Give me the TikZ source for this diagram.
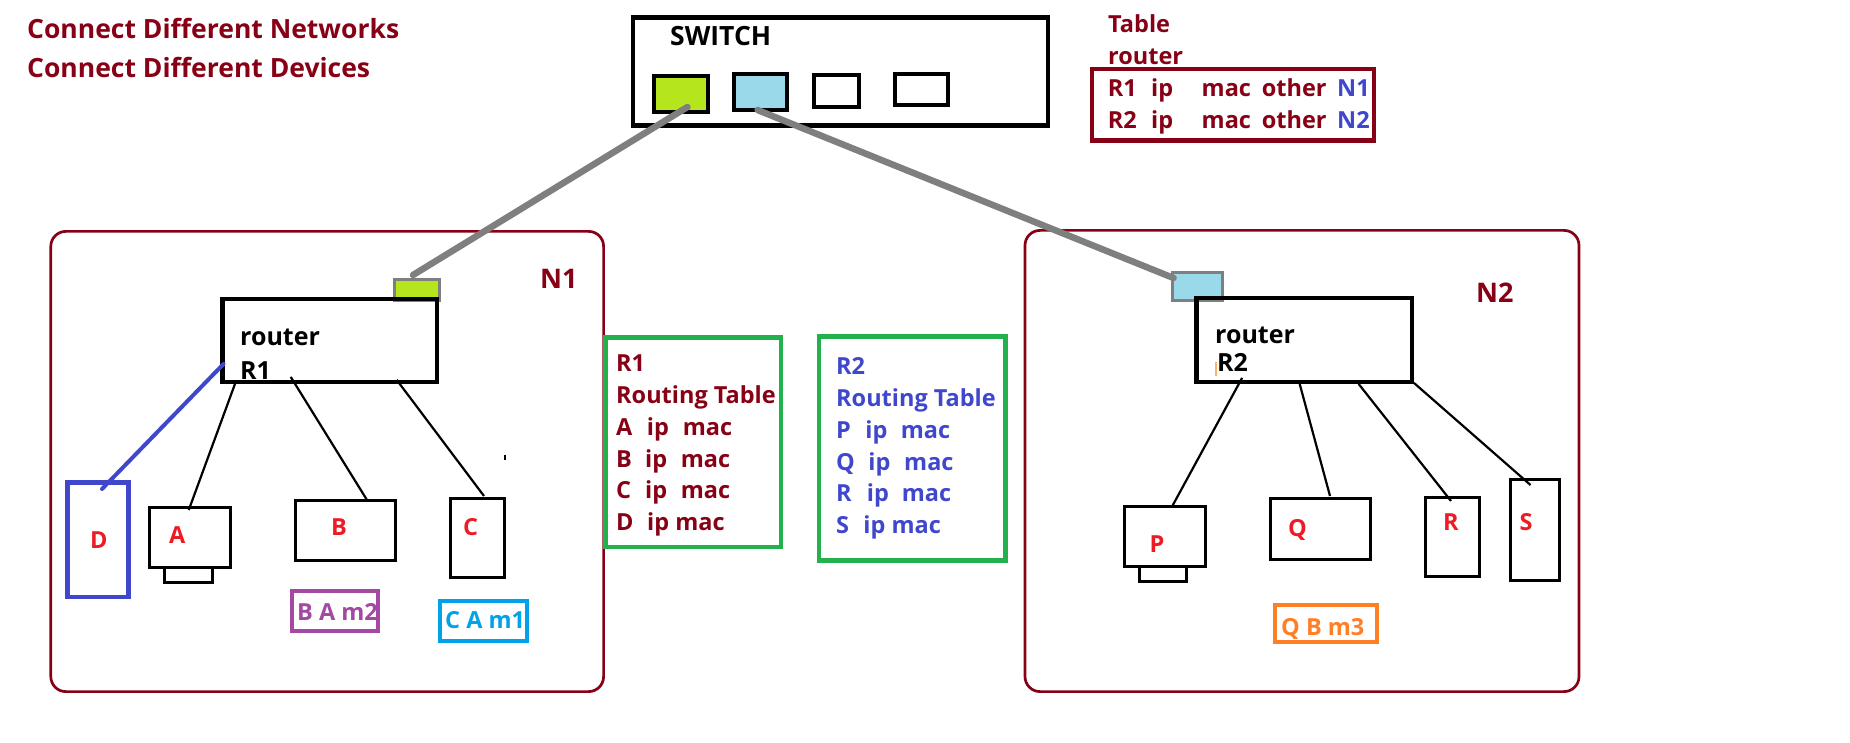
\documentclass[tikz,border=0pt]{standalone}
\usepackage{fontspec}
\setmainfont{Open Sans}
\usetikzlibrary{calc}
\definecolor{dred}{HTML}{880015}
\definecolor{pblue}{HTML}{3F48CC}
\definecolor{pred}{HTML}{ED1C24}
\definecolor{pgreen}{HTML}{22B14C}
\definecolor{ppurple}{HTML}{A349A4}
\definecolor{pcyan}{HTML}{00A2E8}
\definecolor{porange}{HTML}{FF7F27}
\definecolor{plime}{HTML}{B5E61D}
\definecolor{pltblue}{HTML}{99D9EA}
\definecolor{pgray}{HTML}{7F7F7F}
\begin{document}
\begin{tikzpicture}[x=1pt,y=-1pt,
  region/.style={draw=dred, line width=2.7pt, rounded corners=15pt, inner sep=0},
  bigbox/.style={draw=black, line width=4.8pt, inner sep=0},
  devbox/.style={draw=black, line width=3pt, inner sep=0},
  swport/.style={draw=black, line width=4.2pt, inner sep=0},
  rport/.style={draw=pgray, line width=3pt, inner sep=0},
  tblbox/.style={draw=pgreen, line width=4.5pt, inner sep=0},
  tagbox/.style={line width=4pt, inner sep=0},
  txt/.style={inner sep=0, anchor=base west, font=\bfseries\fontsize{23.5}{26}\selectfont},
  big/.style={txt, font=\bfseries\fontsize{26.5}{30}\selectfont},
  rtxt/.style={txt, font=\bfseries\fontsize{25}{28}\selectfont},
  cable/.style={draw=pgray, line width=6.5pt, line cap=round},
  wire/.style={draw=black, line width=2.2pt},
]
\useasboundingbox[fill=white] (0,0) rectangle (1850,743);

% titles
\node[big, dred] (t1) at (27,39) {Connect Different Networks};
\node[big, dred] (t2) at (27,78) {Connect Different Devices};

% switch
\node[bigbox, line width=4.5pt, minimum width=415pt, minimum height=108pt] (sw) at (840.5,71.5) {};
\node[big] (swl) at (670,46) {SWITCH};
\node[swport, fill=plime, minimum width=54pt, minimum height=36pt] (p1) at (681,94) {};
\node[swport, fill=pltblue, minimum width=53pt, minimum height=36pt] (p2) at (760.5,92) {};
\node[swport, minimum width=45pt, minimum height=32pt] (p3) at (836.5,91) {};
\node[swport, minimum width=53pt, minimum height=31pt] (p4) at (921.5,89.5) {};

% top-right table
\node[txt, dred] (tb1) at (1108,32.3) {Table};
\node[txt, dred] (tb2) at (1108,65) {router};
\node[draw=dred, line width=4.3pt, inner sep=0, minimum width=282pt, minimum height=71.5pt] (tbx) at (1233,104.75) {};
\node[txt, dred] (row1) at (1107.7,97) {\makebox[43.3pt][l]{R1}\makebox[50.5pt][l]{ip}\makebox[60.2pt][l]{mac}\makebox[75.3pt][l]{other}\textcolor{pblue}{N1}};
\node[txt, dred] (row2) at (1107.7,129) {\makebox[43.3pt][l]{R2}\makebox[50.5pt][l]{ip}\makebox[60.2pt][l]{mac}\makebox[75.3pt][l]{other}\textcolor{pblue}{N2}};

% regions
\node[region, minimum width=552.8pt, minimum height=460.2pt] (n1) at (327.2,461.5) {};
\node[region, minimum width=554pt, minimum height=461.2pt] (n2) at (1302,461) {};
\node[txt, dred, font=\bfseries\fontsize{27}{30}\selectfont] (n1l) at (540,289) {N1};
\node[txt, dred, font=\bfseries\fontsize{27}{30}\selectfont] (n2l) at (1476,303) {N2};

% router ports and routers
\node[rport, fill=plime, minimum width=45pt, minimum height=21pt] (r1p) at (417,290) {};
\node[rport, fill=pltblue, minimum width=49.5pt, minimum height=28pt] (r2p) at (1197.25,286.2) {};
\node[bigbox, minimum width=214.5pt, minimum height=83pt] (r1) at (329.75,340.5) {};
\node[bigbox, minimum width=215.5pt, minimum height=84pt] (r2) at (1304.25,340) {};
\node[rtxt] (r1a) at (240,345) {router};
\node[rtxt] (r1b) at (240,379) {R1};
\node[rtxt] (r2a) at (1215,343) {router};
\node[rtxt] (r2b) at (1217,371.7) {R2};
\draw[draw=orange!60, line width=1.2pt] (1216,362) -- (1216,376);

% cables
\draw[cable] ($(p1.center)+(6.5,13)$) -- ($(r1p.north west)+(20,-3)$);
\draw[cable] ($(p2.center)+(-3,18)$) -- ($(r2p.north west)+(2.5,7.3)$);

% N1 devices
\node[devbox, draw=pblue, line width=4.5pt, minimum width=61pt, minimum height=114.5pt] (D) at (97.75,539.5) {};
\node[devbox, minimum width=81.5pt, minimum height=60.3pt] (A) at (189.75,537.35) {};
\node[devbox, minimum width=47.5pt, minimum height=15.3pt] (As) at (188.25,574.85) {};
\node[devbox, minimum width=100pt, minimum height=60pt] (B) at (345.5,530.2) {};
\node[devbox, minimum width=54pt, minimum height=79.3pt] (C) at (477.5,537.85) {};
\node[txt, pred] (Dl) at (90,548) {D};
\node[txt, pred] (Al) at (169,543) {A};
\node[txt, pred] (Bl) at (331,535) {B};
\node[txt, pred] (Cl) at (463,535) {C};
\node[tagbox, draw=ppurple, minimum width=85.6pt, minimum height=40pt] (bam) at (334.8,611) {};
\node[txt, ppurple] (baml) at (297,620) {B A m2};
\node[tagbox, draw=pcyan, minimum width=87.3pt, minimum height=40pt] (cam) at (483.35,621) {};
\node[txt, pcyan] (caml) at (445,628) {C A m1};

\draw[wire] ($(r1.south west)+(16,-3.5)$) -- ($(A.north)+(-1,4.3)$);
\draw[wire] ($(r1.south west)+(70.6,-7.5)$) -- ($(B.north)+(21.5,1.3)$);
\draw[wire] ($(r1.south west)+(176.6,-4.5)$) -- ($(C.north)+(6.5,-0.7)$);
\draw[draw=pblue, line width=4pt, line cap=round] ($(r1.west)+(3.4,23.5)$) -- ($(D.north)+(4.25,9)$);
\draw[black, line width=2.5pt] (505,455) -- (505,459.5);

% routing tables
\node[tblbox, minimum width=175.5pt, minimum height=209.5pt] (rt1) at (693,442) {};
\node[txt, dred] (rt1a) at (616,371.5) {R1};
\node[txt, dred] (rt1b) at (616,403) {Routing Table};
\node[txt, dred] (rt1c) at (616,435) {\makebox[30.7pt][l]{A}\makebox[36pt][l]{ip}mac};
\node[txt, dred] (rt1d) at (616,467) {\makebox[29pt][l]{B}\makebox[35.7pt][l]{ip}mac};
\node[txt, dred] (rt1e) at (616,498.5) {\makebox[29pt][l]{C}\makebox[35.7pt][l]{ip}mac};
\node[txt, dred] (rt1f) at (616,530) {\makebox[31pt][l]{D}ip mac};

\node[tblbox, minimum width=186.7pt, minimum height=224.2pt] (rt2) at (912.35,448.4) {};
\node[txt, pblue] (rt2a) at (836,374) {R2};
\node[txt, pblue] (rt2b) at (836,406) {Routing Table};
\node[txt, pblue] (rt2c) at (836,438) {\makebox[29.3pt][l]{P}\makebox[35.4pt][l]{ip}mac};
\node[txt, pblue] (rt2d) at (836,470) {\makebox[32.3pt][l]{Q}\makebox[35.7pt][l]{ip}mac};
\node[txt, pblue] (rt2e) at (836,501.7) {\makebox[30.7pt][l]{R}\makebox[35pt][l]{ip}mac};
\node[txt, pblue] (rt2f) at (836,533.3) {\makebox[27.3pt][l]{S}ip mac};

% N2 devices
\node[devbox, minimum width=81pt, minimum height=59.7pt] (P) at (1164.8,536.35) {};
\node[devbox, minimum width=47.4pt, minimum height=15pt] (Ps) at (1162.8,574) {};
\node[devbox, minimum width=100pt, minimum height=61pt] (Q) at (1320,529) {};
\node[devbox, minimum width=54pt, minimum height=78.7pt] (R) at (1452.5,536.85) {};
\node[devbox, minimum width=49pt, minimum height=101pt] (S) at (1535,529.7) {};
\node[txt, pred] (Pl) at (1149.5,552) {P};
\node[txt, pred] (Ql) at (1288,536.7) {Q};
\node[txt, pred] (Rl) at (1443,530.7) {R};
\node[txt, pred] (Sl) at (1519.5,530) {S};
\node[tagbox, draw=porange, minimum width=102pt, minimum height=37.3pt] (qbm) at (1326,623.35) {};
\node[txt, porange] (qbml) at (1281,635) {Q B m3};

\draw[wire] ($(r2.south west)+(48,-6.5)$) -- ($(P.north)+(7,2)$);
\draw[wire] ($(r2.south west)+(105.3,-1.5)$) -- ($(Q.north)+(10,-1)$);
\draw[wire] ($(r2.south west)+(164.5,-0.5)$) -- ($(R.north)+(-1.5,5)$);
\draw[wire] ($(r2.south east)+(-0.5,-1.5)$) -- ($(S.north)+(-4.5,7.3)$);
\end{tikzpicture}
\end{document}
